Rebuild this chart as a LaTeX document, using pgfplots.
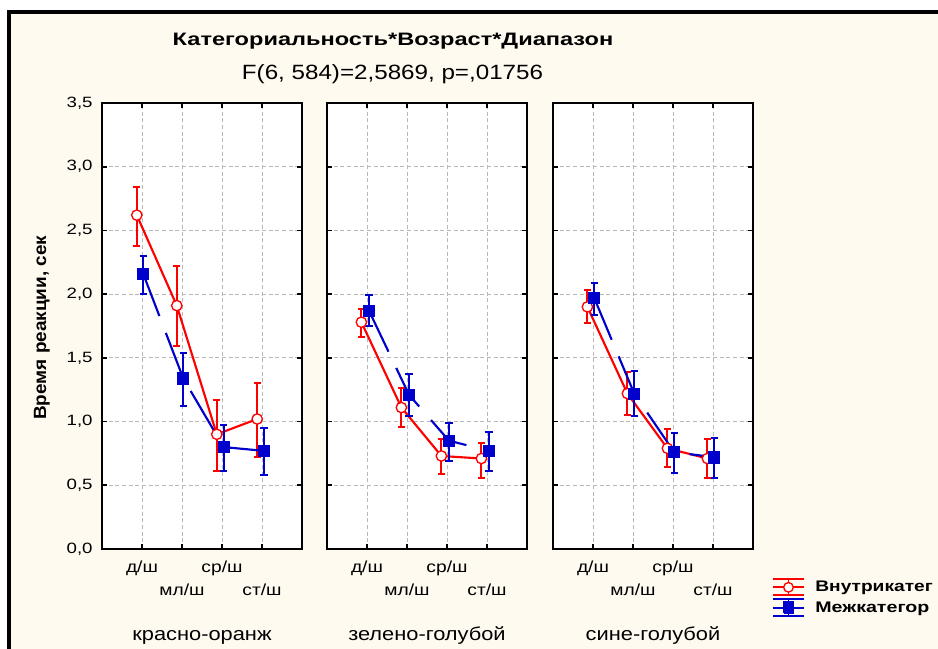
\documentclass[border=0pt]{standalone}
\usepackage{pgfplots}
\pgfplotsset{compat=1.18}
\usepackage{pgfplotstable}
\usepackage{graphicx}
\usepackage{fontspec}
\setmainfont{Liberation Sans}
\definecolor{bg}{RGB}{255,250,240}
\definecolor{sred}{RGB}{255,0,0}
\definecolor{sblue}{RGB}{0,0,204}
\newcommand{\sx}[2]{\scalebox{#1}[1]{#2}}

% Panel 1: красно-оранж
\pgfplotstableread{
x y ep em
0.87 2.62 0.22 0.24
1.87 1.91 0.31 0.32
2.87 0.90 0.27 0.29
3.88 1.02 0.28 0.30
}\redA
\pgfplotstableread{
x y ep em
1.03 2.16 0.14 0.16
2.03 1.34 0.20 0.22
3.04 0.80 0.17 0.19
4.05 0.77 0.18 0.19
}\blueA
% Panel 2: зелено-голубой
\pgfplotstableread{
x y ep em
0.86 1.78 0.10 0.12
1.86 1.11 0.15 0.15
2.86 0.73 0.13 0.14
3.86 0.71 0.12 0.15
}\redB
\pgfplotstableread{
x y ep em
1.05 1.87 0.12 0.12
2.05 1.21 0.16 0.17
3.05 0.85 0.14 0.16
4.05 0.77 0.15 0.16
}\blueB
% Panel 3: сине-голубой
\pgfplotstableread{
x y ep em
0.86 1.90 0.13 0.13
1.86 1.22 0.17 0.17
2.86 0.79 0.15 0.15
3.86 0.71 0.15 0.15
}\redC
\pgfplotstableread{
x y ep em
1.03 1.97 0.12 0.13
2.03 1.22 0.18 0.18
3.03 0.76 0.15 0.16
4.03 0.72 0.15 0.16
}\blueC

\pgfplotsset{
  panel/.style={
    scale only axis, width=150pt, height=334.5pt, anchor=south west,
    xmin=0, xmax=5, ymin=0, ymax=3.5,
    xtick={1,2,3,4}, ytick={0,0.5,1,1.5,2,2.5,3,3.5},
    xticklabels={\sx{1.2}{д/ш},,\sx{1.2}{ср/ш},},
    extra x ticks={2,4}, extra x tick labels={\sx{1.2}{мл/ш},\sx{1.2}{ст/ш}},
    extra x tick style={grid=major, tick label style={yshift=-16.5pt}},
    grid=major, major grid style={densely dashed, black!28, line width=0.6pt},
    axis line style={line width=1.8pt},
    axis background/.style={fill=white},
    tick align=inside, xtick pos=both, ytick pos=both,
    xticklabel pos=lower, yticklabel pos=left,
    major tick length=4pt, tick style={black, line width=1.2pt},
    xticklabel style={anchor=base, yshift=-18pt, font=\fontsize{12pt}{14pt}\selectfont},
    /pgf/number format/.cd, use comma, fixed, fixed zerofill, precision=1, assume math mode=true,
    /pgfplots/.cd,
    xlabel style={at={(axis description cs:0.5,0)}, anchor=base, yshift=-68.25pt, font=\fontsize{14pt}{16pt}\selectfont},
  },
  redplot/.style={sred, line width=1.6pt, solid, mark=*, mark size=3.9pt,
    mark options={fill=white, draw=sred, solid, line width=1pt},
    error bars/.cd, y dir=both, y explicit,
    error bar style={line width=1.5pt, solid, sred},
    error mark options={rotate=90, mark size=2.7pt, line width=1.5pt, sred},
    /pgfplots/.cd},
  blueplot/.style={sblue, line width=1.6pt, dash pattern=on 34pt off 13.5pt, mark=square*, mark size=4.2pt,
    mark options={fill=sblue, draw=sblue, solid, line width=0.5pt},
    error bars/.cd, y dir=both, y explicit,
    error bar style={line width=1.5pt, solid, sblue},
    error mark options={rotate=90, mark size=2.7pt, line width=1.5pt, sblue},
    /pgfplots/.cd},
}

\begin{document}
\begin{tikzpicture}
\useasboundingbox (0,0) rectangle (703.5pt,486.75pt);
\clip (0,0) rectangle (703.5pt,486.75pt);
\fill[white] (0,0) rectangle (703.5pt,486.75pt);
\fill[bg] (6.75pt,-5pt) rectangle (712pt,477.75pt);
\draw[line width=3pt] (6.75pt,-5pt) -- (6.75pt,477.75pt) -- (712pt,477.75pt);

\node[anchor=base, font=\fontsize{13.5pt}{16pt}\selectfont\bfseries] at (294.75pt,452.25pt)
  {\sx{1.31}{Категориальность*Возраст*Диапазон}};
\node[anchor=base, font=\fontsize{15.5pt}{18pt}\selectfont] at (294.4pt,427.3pt)
  {\sx{1.17}{F(6, 584)=2,5869, p=,01756}};
\node[anchor=base, rotate=90, font=\fontsize{13.3pt}{16pt}\selectfont\bfseries] at (34.5pt,241pt)
  {\sx{1.07}{Время реакции, сек}};

% Panel 1
\begin{axis}[panel, at={(76.5pt,75pt)},
  yticklabel={\sx{1.25}{\pgfmathprintnumber{\tick}}},
  yticklabel style={font=\fontsize{11.2pt}{13pt}\selectfont, xshift=-3.5pt},
  xlabel={\sx{1.17}{красно-оранж}}]
\addplot[redplot] table[x=x, y=y, y error plus=ep, y error minus=em]{\redA};
\addplot[blueplot] table[x=x, y=y, y error plus=ep, y error minus=em]{\blueA};
\end{axis}

% Panel 2
\begin{axis}[panel, at={(245.25pt,75pt)}, yticklabels={},
  xlabel={\sx{1.17}{зелено-голубой}}]
\addplot[redplot] table[x=x, y=y, y error plus=ep, y error minus=em]{\redB};
\addplot[blueplot] table[x=x, y=y, y error plus=ep, y error minus=em]{\blueB};
\end{axis}

% Panel 3
\begin{axis}[panel, at={(414.75pt,75pt)}, yticklabels={},
  xlabel={\sx{1.17}{сине-голубой}},
  legend style={at={(1.075,-0.058)}, anchor=north west, draw=none, fill=none,
    font=\fontsize{11.5pt}{13pt}\selectfont\bfseries, row sep=1.5pt, column sep=7pt,
    nodes={inner sep=1pt}},
  legend cell align=left]
\addplot[redplot, legend image code/.code={
   \draw[sred, line width=1.3pt] (0pt,6.5pt) -- (23pt,6.5pt) (0pt,0pt) -- (23pt,0pt) (0pt,-6pt) -- (23pt,-6pt) (11.5pt,-6pt) -- (11.5pt,6.5pt);
   \draw[sred, fill=white, line width=1pt] (11.5pt,0pt) circle (3.6pt);
  }] table[x=x, y=y, y error plus=ep, y error minus=em]{\redC};
\addlegendentry{\sx{1.25}{Внутрикатег}}
\addplot[blueplot, legend image code/.code={
   \draw[sblue, line width=1.3pt, solid] (0pt,6.5pt) -- (23pt,6.5pt) (0pt,0pt) -- (23pt,0pt) (0pt,-6pt) -- (23pt,-6pt) (11.5pt,-6pt) -- (11.5pt,6.5pt);
   \fill[sblue] (8pt,-4pt) rectangle (15pt,4pt);
  }] table[x=x, y=y, y error plus=ep, y error minus=em]{\blueC};
\addlegendentry{\sx{1.28}{Межкатегор}}
\end{axis}
\end{tikzpicture}
\end{document}
